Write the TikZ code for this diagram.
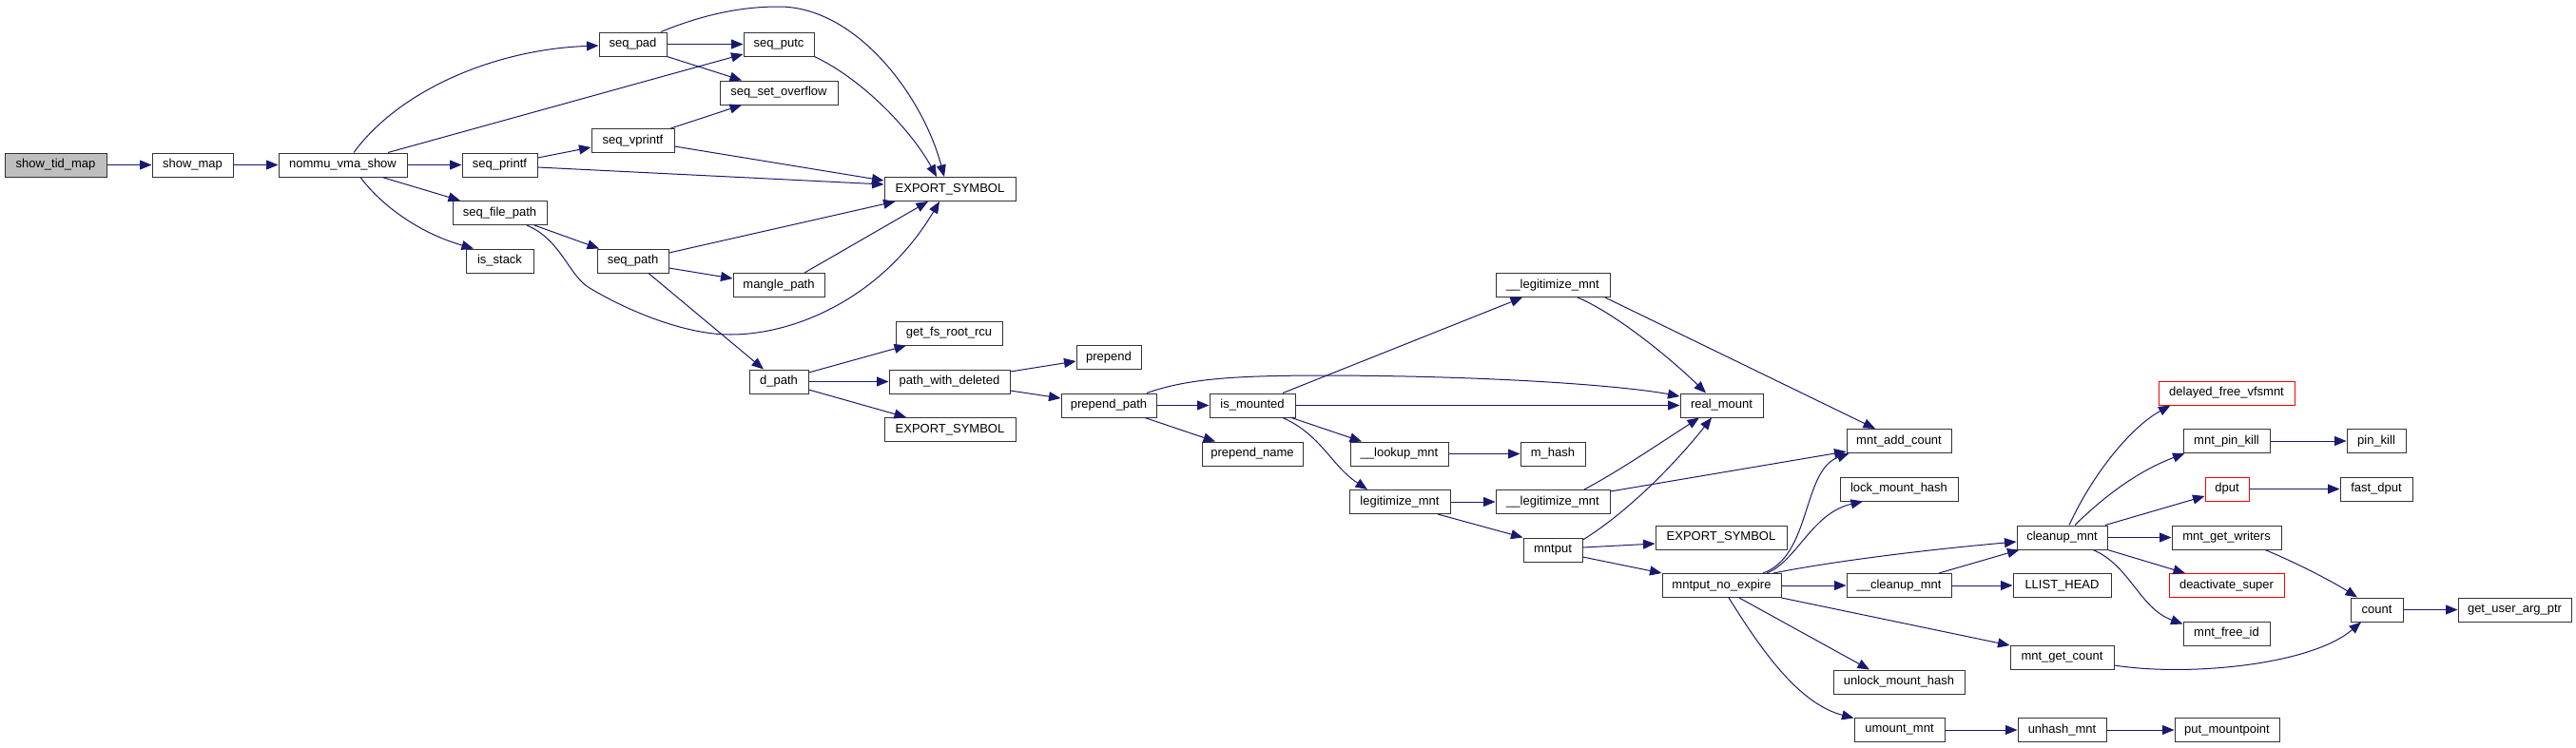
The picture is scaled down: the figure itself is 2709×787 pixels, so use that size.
\documentclass[tikz,border=0pt]{standalone}
\usepackage{fontspec}
\setmainfont{Liberation Sans}
\usetikzlibrary{arrows.meta}
\definecolor{edgec}{HTML}{191970}
\definecolor{rootf}{HTML}{BFBFBF}
\definecolor{bordc}{HTML}{333333}
\tikzset{
 fn/.style={draw=bordc, line width=1pt, fill=white, inner sep=0pt, minimum height=25pt, font=\fontsize{13pt}{15pt}\selectfont},
 rootfn/.style={fn, fill=rootf},
 redfn/.style={fn, draw=red},
 call/.style={draw=edgec, line width=1pt, -{Triangle[length=12.5pt,width=10pt]}},
}
\begin{document}
\begin{tikzpicture}[x=1pt,y=-1pt]
\useasboundingbox (0,0) rectangle (2709,787);
\fill[white] (0,0) rectangle (2709,787);
% nodes
\node[rootfn, minimum width=107pt] (stm) at (58.5,173.5) {show\_tid\_map};
\node[fn, minimum width=85pt] (sm) at (202.5,173.5) {show\_map};
\node[fn, minimum width=135pt] (nvs) at (360.5,173.5) {nommu\_vma\_show};
\node[fn, minimum width=71pt] (spad) at (665.5,46.5) {seq\_pad};
\node[fn, minimum width=74pt] (sputc) at (819,46.5) {seq\_putc};
\node[fn, minimum width=124pt] (sso) at (819,97.5) {seq\_set\_overflow};
\node[fn, minimum width=87pt] (svp) at (665.5,148) {seq\_vprintf};
\node[fn, minimum width=79pt] (spf) at (525.5,173.5) {seq\_printf};
\node[fn, minimum width=138pt] (es1) at (999,199) {EXPORT\_SYMBOL};
\node[fn, minimum width=99pt] (sfp) at (525.5,224) {seq\_file\_path};
\node[fn, minimum width=71pt] (iss) at (525.5,274.5) {is\_stack};
\node[fn, minimum width=75pt] (spath) at (665.5,274.5) {seq\_path};
\node[fn, minimum width=96pt] (mpath) at (819,300) {mangle\_path};
\node[fn, minimum width=112pt] (gfr) at (998,350.5) {get\_fs\_root\_rcu};
\node[fn, minimum width=62pt] (dpath) at (819,401.5) {d\_path};
\node[fn, minimum width=127pt] (pwd) at (998.5,401.5) {path\_with\_deleted};
\node[fn, minimum width=138pt] (es2) at (999,452) {EXPORT\_SYMBOL};
\node[fn, minimum width=68pt] (prep) at (1166,376) {prepend};
\node[fn, minimum width=100pt] (ppath) at (1166,426.5) {prepend\_path};
\node[fn, minimum width=90pt] (ism) at (1317,426.5) {is\_mounted};
\node[fn, minimum width=106pt] (pname) at (1317,477.5) {prepend\_name};
\node[fn, minimum width=103pt] (lum) at (1471.5,477.5) {\_\_lookup\_mnt};
\node[fn, minimum width=68pt] (mh) at (1633,477.5) {m\_hash};
\node[fn, minimum width=106pt] (lgm) at (1472,528) {legitimize\_mnt};
\node[fn, minimum width=120pt] (ulg2) at (1633,528) {\_\_legitimize\_mnt};
\node[fn, minimum width=120pt] (ulg1) at (1633,300) {\_\_legitimize\_mnt};
\node[fn, minimum width=87pt] (rm) at (1810.5,426.5) {real\_mount};
\node[fn, minimum width=110pt] (mac) at (1997,464) {mnt\_add\_count};
\node[fn, minimum width=124pt] (lmh) at (1997,514.5) {lock\_mount\_hash};
\node[fn, minimum width=138pt] (es3) at (1810,565.5) {EXPORT\_SYMBOL};
\node[fn, minimum width=62pt] (mput) at (1633,578.5) {mntput};
\node[fn, minimum width=125pt] (mne) at (1810.5,616) {mntput\_no\_expire};
\node[fn, minimum width=110pt] (ucm) at (1997,616) {\_\_cleanup\_mnt};
\node[fn, minimum width=138pt] (umh) at (1997,717.5) {unlock\_mount\_hash};
\node[fn, minimum width=95pt] (umnt) at (1997.5,768) {umount\_mnt};
\node[fn, minimum width=95pt] (cm) at (2168.5,565.5) {cleanup\_mnt};
\node[fn, minimum width=103pt] (llh) at (2168.5,616) {LLIST\_HEAD};
\node[fn, minimum width=109pt] (mgc) at (2168.5,692) {mnt\_get\_count};
\node[fn, minimum width=93pt] (uhm) at (2168.5,768) {unhash\_mnt};
\node[redfn, minimum width=143pt] (dfv) at (2341.5,413.5) {delayed\_free\_vfsmnt};
\node[fn, minimum width=91pt] (mpk) at (2341.5,464) {mnt\_pin\_kill};
\node[fn, minimum width=62pt] (pk) at (2499,464) {pin\_kill};
\node[redfn, minimum width=46pt] (dput) at (2342,514.5) {dput};
\node[fn, minimum width=76pt] (fdput) at (2499,514.5) {fast\_dput};
\node[fn, minimum width=115pt] (mgw) at (2341.5,565.5) {mnt\_get\_writers};
\node[redfn, minimum width=121pt] (dsuper) at (2341.5,616) {deactivate\_super};
\node[fn, minimum width=55pt] (cnt) at (2499.5,641.5) {count};
\node[fn, minimum width=119pt] (guap) at (2644.5,641.5) {get\_user\_arg\_ptr};
\node[fn, minimum width=91pt] (mfid) at (2341.5,666.5) {mnt\_free\_id};
\node[fn, minimum width=110pt] (pmp) at (2342,768) {put\_mountpoint};
% edges
\draw[call] (stm) -- (sm);
\draw[call] (sm) -- (nvs);
\draw[call] ([xshift=11.5pt]nvs.north) .. controls (420,95) and (520,52) .. ([yshift=-1.5pt]spad.west);
\draw[call] ([xshift=47.5pt]nvs.north) -- ([yshift=-10.5pt]sputc.west);
\draw[call] (nvs) -- (spf);
\draw[call] ([xshift=41.5pt]nvs.south) -- ([xshift=-41.5pt]sfp.north);
\draw[call] ([xshift=18.5pt]nvs.south) .. controls (400,215) and (440,245) .. ([xshift=-27.5pt]iss.north);
\draw[call] (spad) -- (sputc);
\draw[call] (spad.south east) -- ([xshift=-39pt]sso.north);
\draw[call] ([xshift=29.5pt]spad.north) .. controls (740,15) and (780,7) .. (819,7) .. controls (900,7) and (970,100) .. ([xshift=-6pt]es1.north);
\draw[call] (sputc.south east) .. controls (910,85) and (960,140) .. ([xshift=-14pt]es1.north);
\draw[call] ([xshift=-4pt]svp.north east) -- ([xshift=-39pt]sso.south);
\draw[call] ([yshift=-6pt]svp.east) -- ([yshift=9pt]es1.west);
\draw[call] ([yshift=7.5pt]spf.east) -- ([yshift=-7pt]svp.west);
\draw[call] ([yshift=-2.5pt]spf.east) -- ([yshift=5pt]es1.west);
\draw[call] ([xshift=36.5pt]sfp.south) -- ([xshift=-35.5pt]spath.north);
\draw[call] ([xshift=28.5pt]sfp.south) .. controls (590,252) and (598,290) .. (620,303) .. controls (660,327) and (720,352) .. (768,352) .. controls (840,352) and (930,310) .. ([xshift=-11pt]es1.south);
\draw[call] ([yshift=8.5pt]spath.east) -- ([xshift=12pt]es1.south west);
\draw[call] ([yshift=-7.5pt]spath.east) -- ([yshift=7pt]mpath.west);
\draw[call] ([xshift=16.5pt]spath.south) -- ([xshift=-16pt]dpath.north);
\draw[call] ([xshift=27pt]mpath.north) -- ([xshift=-23pt]es1.south);
\draw[call] ([yshift=9.5pt]dpath.east) -- ([xshift=-45pt]gfr.south);
\draw[call] (dpath) -- (pwd);
\draw[call] ([yshift=-8.5pt]dpath.east) -- ([xshift=-46pt]es2.north);
\draw[call] ([yshift=10.5pt]pwd.east) -- ([yshift=-4pt]prep.west);
\draw[call] ([yshift=-9.5pt]pwd.east) -- ([yshift=7.5pt]ppath.west);
\draw[call] (ppath) -- (ism);
\draw[call] ([xshift=38pt]ppath.south) -- ([xshift=-39pt]pname.north);
\draw[call] ([xshift=40pt]ppath.north) .. controls (1250,398) and (1300,395) .. (1400,395) .. controls (1600,396) and (1720,408) .. ([yshift=9.5pt]rm.west);
\draw[call] (ism) -- (rm);
\draw[call] ([xshift=32pt]ism.north) -- ([xshift=-32pt]ulg1.south);
\draw[call] ([xshift=41pt]ism.south) -- ([xshift=-39.5pt]lum.north);
\draw[call] ([xshift=32pt]ism.south) .. controls (1390,458) and (1400,490) .. ([xshift=-34pt]lgm.north);
\draw[call] (lum) -- (mh);
\draw[call] (lgm) -- (ulg2);
\draw[call] ([xshift=40pt]lgm.south) -- (mput.north west);
\draw[call] ([xshift=26pt]ulg1.south) .. controls (1700,330) and (1760,380) .. ([xshift=-16.5pt]rm.north);
\draw[call] ([xshift=55pt]ulg1.south) -- ([xshift=-25pt]mac.north);
\draw[call] ([xshift=33pt]ulg2.north) .. controls (1700,497) and (1740,470) .. ([xshift=-23.5pt]rm.south);
\draw[call] ([yshift=11pt]ulg2.east) -- ([yshift=-11pt]mac.west);
\draw[call] ([yshift=10.5pt]mput.east) .. controls (1710,540) and (1760,490) .. ([xshift=-10.5pt]rm.south);
\draw[call] ([yshift=2.5pt]mput.east) -- ([yshift=-6.5pt]es3.west);
\draw[call] ([yshift=-7.5pt]mput.east) -- (mne.north west);
\draw[call] ([xshift=43.5pt]mne.north) .. controls (1905,585) and (1895,495) .. ([xshift=3pt]mac.south west);
\draw[call] ([xshift=47.5pt]mne.north) .. controls (1890,590) and (1905,540) .. ([xshift=-38pt]lmh.south);
\draw[call] ([xshift=54.5pt]mne.north) .. controls (1930,590) and (2030,578) .. ([yshift=-4.5pt]cm.west);
\draw[call] (mne) -- (ucm);
\draw[call] (mne.south east) -- (mgc.north west);
\draw[call] ([xshift=18.5pt]mne.south) -- ([xshift=-31pt]umh.north);
\draw[call] ([xshift=7.5pt]mne.south) .. controls (1850,680) and (1890,740) .. ([yshift=-0.5pt]umnt.north west);
\draw[call] ([xshift=42pt]ucm.north) -- ([xshift=3pt]cm.south west);
\draw[call] (ucm) -- (llh);
\draw[call] (umnt) -- (uhm);
\draw[call] (uhm) -- (pmp);
\draw[call] ([xshift=7.5pt]cm.north) .. controls (2200,500) and (2240,450) .. ([xshift=13pt]dfv.south west);
\draw[call] ([xshift=13.5pt]cm.north) .. controls (2215,520) and (2250,495) .. ([xshift=2pt]mpk.south west);
\draw[call] ([xshift=45.5pt]cm.north) -- ([yshift=-7.5pt]dput.west);
\draw[call] (cm) -- (mgw);
\draw[call] (cm.south east) -- ([xshift=-43.5pt]dsuper.north);
\draw[call] ([xshift=32.5pt]cm.south) .. controls (2240,595) and (2250,640) .. ([yshift=-3pt]mfid.north west);
\draw[call] (mpk) -- (pk);
\draw[call] (dput) -- (fdput);
\draw[call] ([xshift=40.5pt]mgw.south) .. controls (2410,590) and (2450,610) .. ([xshift=-20.5pt]cnt.north);
\draw[call] ([yshift=-8pt]mgc.east) .. controls (2300,712) and (2430,700) .. ([xshift=-16.5pt]cnt.south);
\draw[call] (cnt) -- (guap);
\end{tikzpicture}
\end{document}
